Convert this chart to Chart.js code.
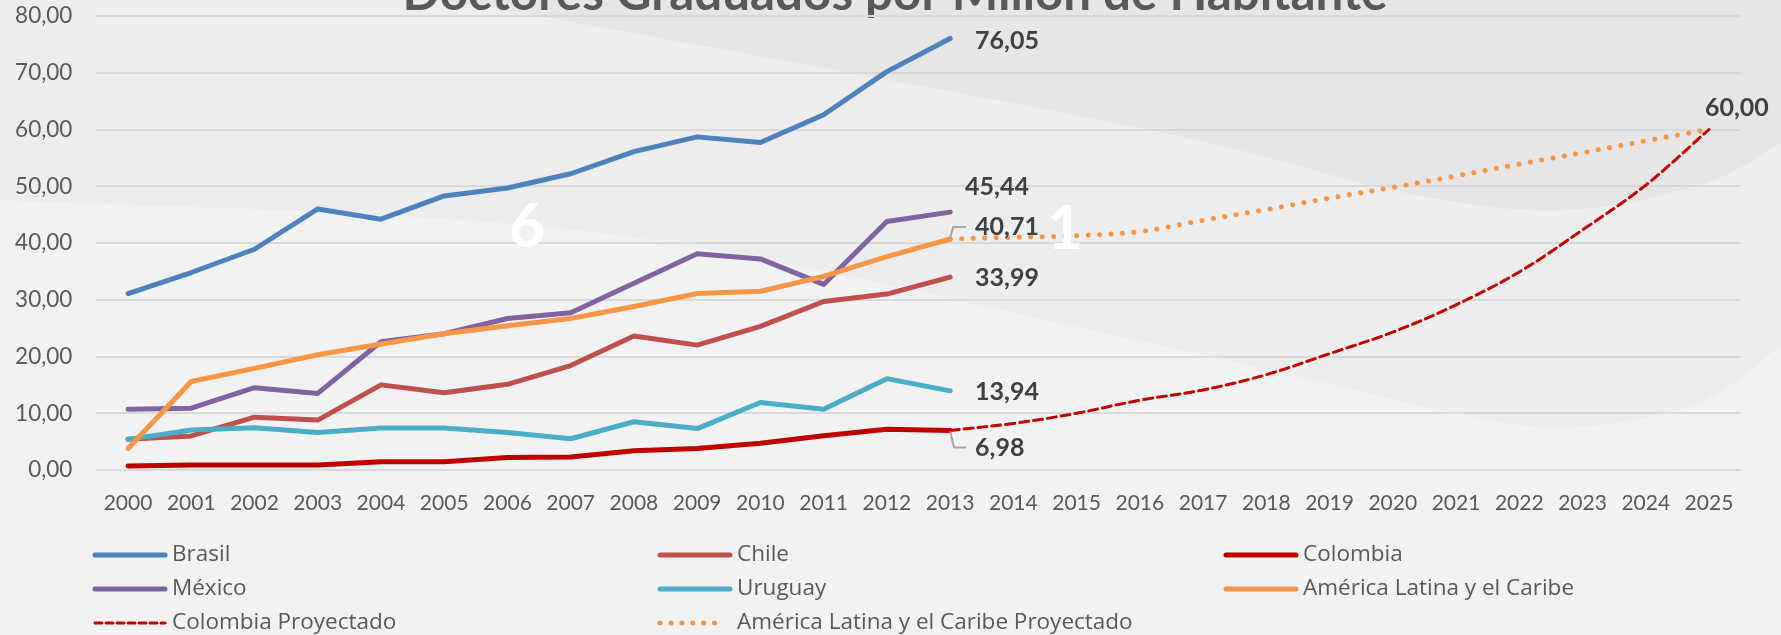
<!DOCTYPE html>
<html><head><meta charset="utf-8">
<script src="https://cdn.jsdelivr.net/npm/chart.js@4.4.1/dist/chart.umd.min.js"></script>
<style>html,body{margin:0;padding:0;background:#f2f2f2;overflow:hidden}canvas{display:block}</style>
</head><body>
<canvas id="c" width="1781" height="635"></canvas>
<script>
// ---- data ----
const years = ['2000','2001','2002','2003','2004','2005','2006','2007','2008','2009','2010','2011','2012','2013',
               '2014','2015','2016','2017','2018','2019','2020','2021','2022','2023','2024','2025'];
const brasil   = [31.1, 34.8, 38.9, 46.0, 44.2, 48.3, 49.7, 52.2, 56.1, 58.7, 57.7, 62.6, 70.2, 76.05];
const chile    = [5.4, 6.0, 9.3, 8.8, 15.0, 13.6, 15.1, 18.4, 23.6, 22.0, 25.3, 29.7, 31.0, 33.99];
const colombia = [0.7, 0.9, 0.9, 0.9, 1.45, 1.45, 2.2, 2.3, 3.4, 3.8, 4.7, 6.05, 7.2, 6.98];
const mexico   = [10.7, 10.9, 14.5, 13.5, 22.6, 24.0, 26.7, 27.7, 32.9, 38.1, 37.2, 32.7, 43.8, 45.44];
const uruguay  = [5.4, 7.05, 7.45, 6.6, 7.4, 7.4, 6.6, 5.5, 8.5, 7.3, 11.9, 10.7, 16.1, 13.94];
const alc      = [3.8, 15.6, 17.9, 20.3, 22.2, 24.0, 25.4, 26.7, 28.8, 31.1, 31.5, 34.1, 37.6, 40.71];
// projections 2013..2025
const colombiaProy = [6.98, 8.2, 10.0, 12.3, 14.1, 16.8, 20.5, 24.3, 29.1, 34.9, 42.3, 50.2, 60.00];
const alcProy      = [40.71, 41.0, 41.3, 42.0, 44.0, 45.9, 47.9, 49.8, 51.8, 53.9, 55.9, 58.0, 60.00];
const seriesNames = ['Brasil','Chile','Colombia','México','Uruguay','América Latina y el Caribe',
                     'Colombia Proyectado','América Latina y el Caribe Proyectado'];
const titleText = 'Doctores Graduados por Millón de Habitante';

// ---- helpers ----
const hist = a => a.concat(Array(years.length - a.length).fill(null));
const proj = a => Array(years.length - a.length).fill(null).concat(a);
const fmt = v => v.toFixed(2).replace('.', ',');
const FONT = 'Lato, "Open Sans", sans-serif';
const LEGEND_FONT = '"Open Sans", Lato, sans-serif';

const colors = ['#4f81bd','#c0504d','#c00000','#8064a2','#4bacc6','#f79646','#c00000','#f79646'];
const values = [brasil, chile, colombia, mexico, uruguay, alc, colombiaProy, alcProy];
const datasets = values.map((v, i) => ({
  label: seriesNames[i],
  data: i < 6 ? hist(v) : proj(v),
  borderColor: colors[i],
  backgroundColor: colors[i],
  borderWidth: i === 6 ? 3 : 5,
  borderDash: i === 6 ? [9, 5] : (i === 7 ? [0.1, 11.4] : []),
  borderCapStyle: 'round',
  borderJoinStyle: 'round',
  tension: i >= 6 ? 0.35 : 0,
  pointRadius: 0,
  fill: false,
  spanGaps: false,
  order: 10 - i
}));

// label specs: dataset index, offsets, leader
const labelSpecs = [
  {ds:0, dx:25, dy:3},
  {ds:3, dx:15, dy:-25},
  {ds:5, dx:25, dy:-12, leader:[[0,-1],[3,-12],[16,-12]]},
  {ds:1, dx:25, dy:1},
  {ds:4, dx:25, dy:1},
  {ds:2, dx:25, dy:18, leader:[[0,1],[4,17],[16,17]]},
  {ds:6, dx:-4, dy:-22}
];

const bgPlugin = {
  id: 'bg',
  beforeDraw(chart) {
    const ctx = chart.ctx, W = chart.width, H = chart.height;
    ctx.save();
    ctx.fillStyle = '#f2f2f2';
    ctx.fillRect(0, 0, W, H);
    const smooth = (pts) => {
      ctx.moveTo(pts[0][0], pts[0][1]);
      for (let i = 0; i < pts.length - 1; i++) {
        const p0 = pts[Math.max(i - 1, 0)], p1 = pts[i], p2 = pts[i + 1], p3 = pts[Math.min(i + 2, pts.length - 1)];
        ctx.bezierCurveTo(p1[0] + (p2[0] - p0[0]) / 6, p1[1] + (p2[1] - p0[1]) / 6,
                          p2[0] - (p3[0] - p1[0]) / 6, p2[1] - (p3[1] - p1[1]) / 6, p2[0], p2[1]);
      }
    };
    ctx.fillStyle = '#ededed';
    ctx.beginPath();
    smooth([[0,200],[600,233],[1150,343],[1450,412],[1572,427],[1700,402],[1781,345]]);
    ctx.lineTo(W, 0); ctx.lineTo(0, 0); ctx.closePath(); ctx.fill();
    ctx.fillStyle = '#e6e6e6';
    ctx.beginPath();
    smooth([[430,0],[550,18],[1150,130],[1400,192],[1560,210],[1700,185],[1781,143]]);
    ctx.lineTo(W, 0); ctx.closePath(); ctx.fill();
    // title (partly above the canvas)
    ctx.fillStyle = '#595959';
    ctx.textBaseline = 'alphabetic';
    ctx.textAlign = 'center';
    ctx.font = 'bold 43px ' + FONT;
    const w = ctx.measureText(titleText).width;
    const size = 43 * 985 / w;
    ctx.font = 'bold ' + size.toFixed(1) + 'px ' + FONT;
    ctx.fillText(titleText, 895, 10);
    ctx.restore();
  },
  afterDatasetsDraw(chart) {
    const ctx = chart.ctx;
    ctx.save();
    // stray white glyphs from the original slide
    ctx.fillStyle = '#ffffff';
    ctx.font = 'bold 62px ' + FONT;
    ctx.textAlign = 'center';
    ctx.textBaseline = 'alphabetic';
    ctx.fillText('6', 527, 247);
    ctx.fillText('1', 1065, 249);
    // data labels
    ctx.font = 'bold 25px ' + FONT;
    ctx.textAlign = 'left';
    ctx.textBaseline = 'middle';
    labelSpecs.forEach(s => {
      const meta = chart.getDatasetMeta(s.ds);
      const data = chart.data.datasets[s.ds].data;
      let idx = data.length - 1;
      while (data[idx] == null) idx--;
      const pt = meta.data[idx];
      if (s.leader) {
        ctx.strokeStyle = '#a6a6a6';
        ctx.lineWidth = 2;
        ctx.beginPath();
        s.leader.forEach((p, k) => k ? ctx.lineTo(pt.x + p[0], pt.y + p[1]) : ctx.moveTo(pt.x + p[0], pt.y + p[1]));
        ctx.stroke();
      }
      ctx.fillStyle = '#404040';
      ctx.fillText(fmt(data[idx]), pt.x + s.dx, pt.y + s.dy);
    });
    ctx.restore();
  },
  afterDraw(chart) {
    const ctx = chart.ctx;
    ctx.save();
    const rows = [555, 589, 623], cols = [95, 660, 1226];
    ctx.font = '22.5px ' + LEGEND_FONT;
    ctx.textBaseline = 'middle';
    ctx.textAlign = 'left';
    chart.data.datasets.forEach((ds, i) => {
      const x = cols[i % 3], y = rows[Math.floor(i / 3)];
      ctx.strokeStyle = ds.borderColor;
      ctx.lineCap = 'round';
      ctx.lineWidth = i < 6 ? 5 : ds.borderWidth;
      ctx.setLineDash(i < 6 ? [] : (i === 6 ? [7, 4] : [0.1, 10.8]));
      ctx.beginPath();
      ctx.moveTo(x, y); ctx.lineTo(x + (i === 7 ? 65 : 70), y); ctx.stroke();
      ctx.setLineDash([]);
      ctx.fillStyle = '#595959';
      ctx.fillText(ds.label, x + 77, y);
    });
    ctx.restore();
  }
};

new Chart(document.getElementById('c'), {
  type: 'line',
  data: { labels: years, datasets },
  plugins: [bgPlugin],
  options: {
    responsive: false,
    animation: false,
    events: [],
    devicePixelRatio: 1,
    layout: { padding: { left: 0, right: 40.4, top: 16, bottom: 105 } },
    plugins: { legend: { display: false }, tooltip: { enabled: false }, title: { display: false } },
    scales: {
      x: {
        offset: true,
        grid: { display: false },
        border: { display: false },
        ticks: { color: '#595959', font: { family: FONT, size: 21 }, padding: 13, maxRotation: 0, autoSkip: false },
        afterFit: s => { s.height = 60; }
      },
      y: {
        min: 0, max: 80,
        border: { display: false },
        grid: { color: '#d9d9d9', lineWidth: 2, drawTicks: false },
        ticks: { stepSize: 10, color: '#595959', font: { family: FONT, size: 22.5 }, padding: 24, callback: v => fmt(v) },
        afterFit: s => { s.width = 96.4; s.paddingTop = 0; s.paddingBottom = 0; }
      }
    }
  }
});
</script>
</body></html>
